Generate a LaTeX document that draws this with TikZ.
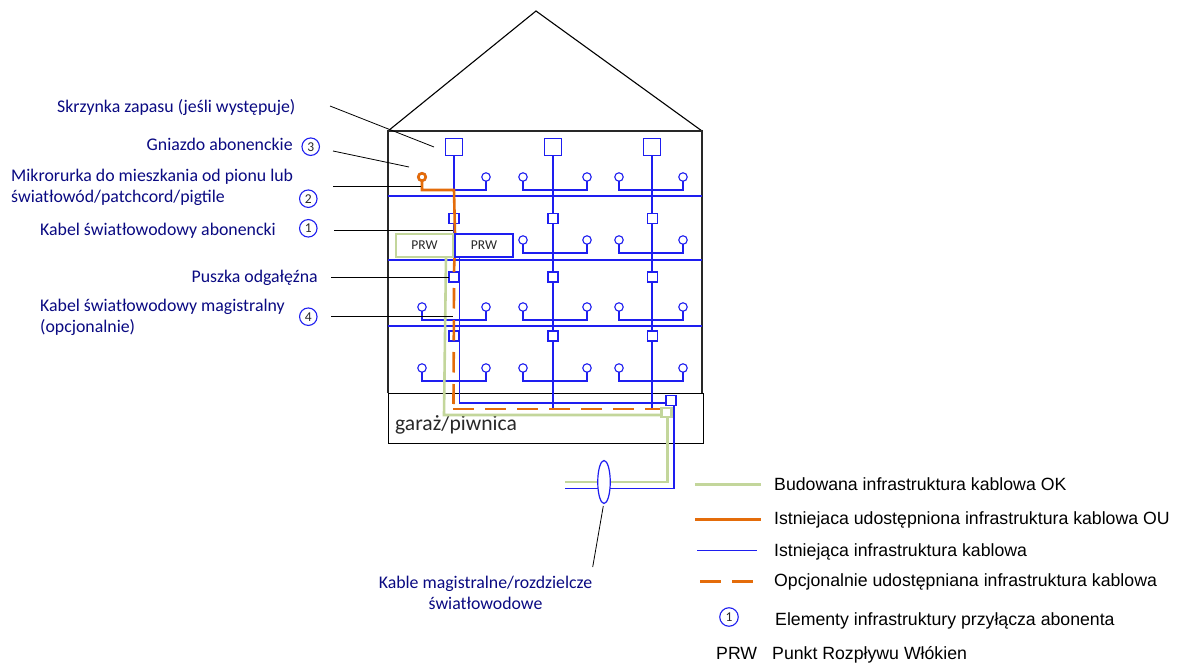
\documentclass[tikz,border=0pt]{standalone}
\usepackage{fontspec}
\setmainfont{Carlito}
\newfontfamily\legendfont{Liberation Sans}
\usetikzlibrary{shapes.geometric}
\definecolor{cblue}{RGB}{30,30,240}
\definecolor{cgreen}{RGB}{195,214,155}
\definecolor{corange}{RGB}{228,108,10}
\definecolor{cnavy}{RGB}{10,10,130}
\definecolor{cgray}{RGB}{40,40,40}
\tikzset{x=1pt,y=-1pt,
  wall/.style={draw=cgray,line width=1.4pt},
  bline/.style={draw=cblue,line width=1.1pt},
  floorline/.style={draw=cblue,line width=1.4pt},
  gline/.style={draw=cgreen,line width=2.6pt},
  oline/.style={draw=corange,line width=2.6pt},
  odash/.style={draw=corange,line width=2.6pt,dash pattern=on 20.5pt off 11.5pt},
  leader/.style={draw=black,line width=.8pt},
  bigbox/.style={draw=cblue,line width=1.3pt,minimum size=16.5pt,inner sep=0,outer sep=0,fill=white},
  smallbox/.style={draw=cblue,line width=1.3pt,minimum size=9.8pt,inner sep=0,outer sep=0,fill=white},
  outlet/.style={circle,draw=cblue,line width=1.1pt,minimum size=8.5pt,inner sep=0,outer sep=0,fill=white},
  prw/.style={rectangle,minimum width=57pt,minimum height=23pt,inner sep=0,outer sep=0,fill=white,font=\fontsize{13.5}{15}\selectfont,text=cgray},
  lab/.style={anchor=base west,inner sep=0,text=cnavy,font=\fontsize{17.8}{21}\selectfont,align=left},
  leg/.style={anchor=base west,inner sep=0,text=black,font=\legendfont\fontsize{17.7}{20}\selectfont},
  num/.style={circle,draw=cblue,line width=1.1pt,minimum size=17.5pt,inner sep=0,text=cgray,font=\fontsize{13.5}{15}\selectfont},
}
\begin{document}
\begin{tikzpicture}
\useasboundingbox (0,0) rectangle (1179,666);
\fill[white] (0,0) rectangle (1179,666);
% building
\coordinate (tl) at (388,131); \coordinate (tr) at (702,131);
\coordinate (bl) at (388,393); \coordinate (br) at (702,393);
\coordinate (apex) at (536,11);
\draw[draw=black,line width=1.1pt] (tl) -- (apex) -- (tr);
\draw[wall] (bl) -- (tl) -- (tr) -- (br);
\node[draw=black,line width=1pt,rectangle,minimum width=315pt,minimum height=49.5pt,inner sep=0,outer sep=0] (basement) at (545.5,418.25) {};
\node[anchor=base west,inner sep=0,text=cgray,font=\fontsize{21.6}{24}\selectfont] (bt) at (395,430.5) {garaż/piwnica};
% floors
\foreach \y/\n in {196/a,260/b,326/c}{
  \coordinate (fl\n) at (388,\y); \coordinate (fr\n) at (702,\y);
  \draw[floorline] (fl\n) -- (fr\n);
}
% junction nodes
\coordinate (Bend) at (459.3,403);
\coordinate (m1) at (553,409); \coordinate (m2) at (652,409);
% risers
\coordinate (r1b) at (454,234);
\draw[bline] (553,155) -- (m1);
\draw[bline] (652,155) -- (m2);
\draw[bline] (454,155) -- (r1b);
% big boxes
\node[bigbox] (B1) at (454,147) {};
\node[bigbox] (B2) at (553,147) {};
\node[bigbox] (B3) at (652,147) {};
% small boxes
\foreach \n/\x/\y in {s11/454/218.5,s12/553/218.5,s13/652.5/218.5,s21/454/277,s22/553/277,s23/652.5/277,s31/454/336,s32/553/336,s33/652.5/336}{
  \node[smallbox] (\n) at (\x,\y) {};
}
% outlet pairs
\foreach \n/\xa/\xb/\yc/\yh in {
  a/422/486/177/190, b/523/587/177/190, c/619/683/177/190,
  e/523/587/240/253, f/619/683/240/253,
  g/422/486/307/320, h/523/587/307/320, i/619/683/307/320,
  j/422/486/368/381, k/523/587/368/381, l/619/683/368/381}{
  \node[outlet] (o\n1) at (\xa,\yc) {};
  \node[outlet] (o\n2) at (\xb,\yc) {};
  \draw[bline] (o\n1.south) -- (\xa,\yh) -- (\xb,\yh) -- (o\n2.south);
}
% blue main line
\node[smallbox] (dist) at (671,400.5) {};
\draw[bline] (459.3,257) -- (Bend) -- (dist.west |- Bend);
\coordinate (c1) at (674,488.5); \coordinate (c2) at (565,488.5);
\draw[bline] (674,405) -- (c1) -- (c2);
% orange
\coordinate (d1) at (454,288); \coordinate (d2) at (453.5,404);
\coordinate (d3) at (453,409); \coordinate (d4) at (661,409);
\draw[odash] (d1) -- (d2);
\draw[odash] (d3) -- (d4);
\draw[oline] (oa1.south) -- (422,190) -- (454,190) -- (455,234);
\draw[oline] (454.5,257) -- (s21.north);
\node[circle,draw=corange,line width=2.6pt,minimum size=7.5pt,inner sep=0,outer sep=0,fill=white] at (oa1) {};
% PRW boxes
\node[prw,draw=cblue,line width=1.3pt,minimum width=58pt] (P2) at (484,245.5) {PRW};
\node[prw,draw=cgreen,line width=2.6pt] (P1) at (424.5,245.5) {PRW};
% green
\node[draw=cgreen,line width=2.6pt,minimum width=10pt,minimum height=9pt,inner sep=0,outer sep=0] (gb) at (666.5,412.5) {};
\coordinate (g1) at (446,257); \coordinate (g2) at (444,415);
\coordinate (g3) at (667.5,482); \coordinate (g4) at (565,482);
\draw[gline] (g1) -- (g2) -- (gb.west |- g2);
\draw[gline] (667.5,417) -- (g3) -- (g4);
% cable ellipse
\node[ellipse,draw=cblue,line width=1.2pt,fill=white,minimum width=12.5pt,minimum height=43pt,inner sep=0,outer sep=0] (cab) at (604,482) {};
% left labels
\node[lab] (t1) at (57,112.7) {Skrzynka zapasu (jeśli występuje)};
\node[lab] (t2) at (146.5,150.3) {Gniazdo abonenckie};
\node[lab,anchor=north west] (t3) at (11,169) {Mikrorurka do mieszkania od pionu lub\\światłowód/patchcord/pigtile};
\node[lab] (t4) at (40,235.3) {Kabel światłowodowy abonencki};
\node[lab] (t5) at (191.5,282.3) {Puszka odgałęźna};
\node[lab,anchor=north west] (t6) at (40,299) {Kabel światłowodowy magistralny\\(opcjonalnie)};
\node[lab,align=center,anchor=north] (t7) at (485.5,576) {Kable magistralne/rozdzielcze\\światłowodowe};
% numbers
\node[num] (n3) at (310.7,146.7) {3};
\node[num] (n2) at (308.3,198.7) {2};
\node[num] (n1) at (308.3,228.3) {1};
\node[num] (n4) at (308.3,316.7) {4};
% leaders
\coordinate (la) at (330,106); \coordinate (lb) at (434,147);
\coordinate (lc) at (333,151); \coordinate (ld) at (409,167);
\coordinate (le) at (333,186); \coordinate (lf) at (421,186);
\coordinate (lg) at (334,230); \coordinate (lh) at (453,230);
\coordinate (li) at (331,277); \coordinate (lj) at (s21.west);
\coordinate (lk) at (331,316); \coordinate (ll) at (453,316);
\coordinate (lm) at (603.3,506); \coordinate (ln) at (592.7,567);
\draw[leader] (la) -- (lb);
\draw[leader] (lc) -- (ld);
\draw[leader] (le) -- (lf);
\draw[leader] (lg) -- (lh);
\draw[leader] (li) -- (lj);
\draw[leader] (lk) -- (ll);
\draw[leader] (lm) -- (ln);
% legend
\coordinate (lg1a) at (695,484.7); \coordinate (lg1b) at (760.5,484.7);
\coordinate (lg2a) at (695,519.7); \coordinate (lg2b) at (760.5,519.7);
\coordinate (lg3a) at (697,550.7); \coordinate (lg3b) at (757,550.7);
\coordinate (lg4a) at (700,581.3); \coordinate (lg4b) at (753,581.3);
\draw[gline] (lg1a) -- (lg1b);
\draw[oline] (lg2a) -- (lg2b);
\draw[bline] (lg3a) -- (lg3b);
\draw[odash] (lg4a) -- (lg4b);
\node[leg] (k1) at (774,490) {Budowana infrastruktura kablowa OK};
\node[leg] (k2) at (774,524) {Istniejaca udostępniona infrastruktura kablowa OU};
\node[leg] (k3) at (774,556) {Istniejąca infrastruktura kablowa};
\node[leg] (k4) at (774,586.7) {Opcjonalnie udostępniana infrastruktura kablowa};
\node[num,minimum size=18.5pt] (k5n) at (729,617) {1};
\node[leg] (k5) at (775,625) {Elementy infrastruktury przyłącza abonenta};
\node[leg] (k6a) at (716,659) {PRW};
\node[leg] (k6) at (772,659) {Punkt Rozpływu Włókien};
\end{tikzpicture}
\end{document}
